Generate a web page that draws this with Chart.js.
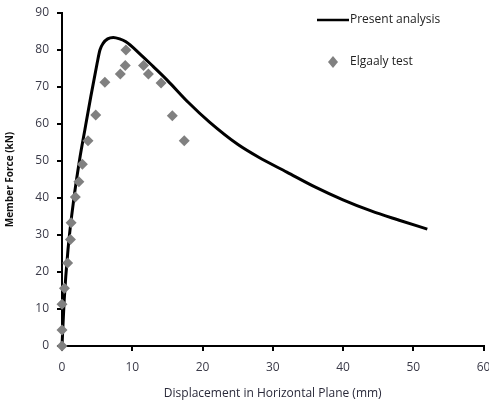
<!DOCTYPE html>
<html>
<head>
<meta charset="utf-8">
<script src="https://cdn.jsdelivr.net/npm/chart.js@4.4.1/dist/chart.umd.min.js"></script>
<style>
  html, body { margin: 0; padding: 0; background: #fff; }
  #wrap { width: 489px; height: 405px; }
</style>
</head>
<body>
<div id="wrap"><canvas id="chart" width="489" height="405"></canvas></div>
<script>
"use strict";

// present analysis curve (mm, kN)
var analysisX = [0, 0.3, 0.85, 1.7, 2.5, 3.25, 4.1, 5.0, 5.4, 5.85, 6.5, 7.3, 8.2, 9.1, 11, 13, 15, 18, 21, 25, 28, 32, 36, 40, 44, 48, 52];
var analysisY = [0, 12, 26, 40, 50.3, 58.4, 67.4, 76.4, 80, 81.8, 83, 83.4, 83, 82.2, 79.1, 75.5, 71.8, 65.8, 60.5, 54.5, 51, 47, 43, 39.5, 36.5, 34, 31.6];

// Elgaaly test points
var testX = [0, 0, 0, 0.35, 0.8, 1.2, 1.3, 1.9, 2.4, 2.9, 3.7, 4.8, 6.1, 8.3, 9.0, 9.1, 11.6, 12.3, 14.1, 15.7, 17.4];
var testY = [0, 4.3, 11.3, 15.6, 22.4, 28.8, 33.3, 40.3, 44.4, 49.1, 55.5, 62.4, 71.3, 73.5, 75.8, 80.0, 75.8, 73.5, 71.1, 62.2, 55.5];

var xTicks = [0, 10, 20, 30, 40, 50, 60];
var yTicks = [0, 10, 20, 30, 40, 50, 60, 70, 80, 90];

function toPoints(xs, ys) {
    var pts = [];
    for (var i = 0; i < xs.length; i++) {
        pts.push({x: xs[i], y: ys[i]});
    }
    return pts;
}

var tickColor = "#3a3a48";
var testColor = "#808080";

// legend drawn inside the plot, top right
var insideLegend = {
    id: "insideLegend",
    afterDraw: function (chart) {
        var ctx = chart.ctx;
        ctx.save();
        ctx.font = "12px 'Open Sans', sans-serif";
        ctx.fillStyle = "#222";
        ctx.textBaseline = "middle";

        ctx.strokeStyle = "#000";
        ctx.lineWidth = 2.5;
        ctx.beginPath();
        ctx.moveTo(317, 20);
        ctx.lineTo(349, 20);
        ctx.stroke();
        ctx.fillText("Present analysis", 350, 20);

        ctx.fillStyle = testColor;
        ctx.beginPath();
        ctx.moveTo(333, 56);
        ctx.lineTo(338, 62);
        ctx.lineTo(333, 68);
        ctx.lineTo(328, 62);
        ctx.closePath();
        ctx.fill();
        ctx.fillStyle = "#222";
        ctx.fillText("Elgaaly test", 350, 62);
        ctx.restore();
    }
};

var ctx = document.getElementById("chart").getContext("2d");
new Chart(ctx, {
    type: "scatter",
    data: {
        datasets: [
            {
                label: "Elgaaly test",
                data: toPoints(testX, testY),
                pointStyle: "rectRot",
                pointRadius: 5.5,
                backgroundColor: testColor,
                borderColor: testColor,
                borderWidth: 0,
                showLine: false,
                clip: false,
                order: 0
            },
            {
                label: "Present analysis",
                data: toPoints(analysisX, analysisY),
                showLine: true,
                borderColor: "#000",
                borderWidth: 3,
                pointRadius: 0,
                cubicInterpolationMode: "monotone",
                clip: false,
                order: 1
            }
        ]
    },
    options: {
        responsive: false,
        animation: false,
        layout: { padding: { top: 13, right: 3, left: 0, bottom: 0 } },
        plugins: {
            legend: { display: false },
            tooltip: { enabled: false }
        },
        scales: {
            x: {
                type: "linear",
                min: 0,
                max: 60,
                afterBuildTicks: function (scale) {
                    scale.ticks = xTicks.map(function (v) { return {value: v}; });
                },
                afterFit: function (scale) {
                    scale.height = 59;
                    scale.paddingLeft = 0;
                    scale.paddingRight = 0;
                },
                border: { color: "#000", width: 2 },
                grid: { drawOnChartArea: false, color: "#000", tickLength: 5, lineWidth: 2 },
                ticks: {
                    color: tickColor,
                    padding: 9,
                    font: { family: "'Open Sans', sans-serif", size: 12 }
                },
                title: {
                    display: true,
                    text: "Displacement in Horizontal Plane (mm)",
                    color: "#2a2a3a",
                    padding: { top: 8 },
                    font: { family: "'Open Sans', sans-serif", size: 12 }
                }
            },
            y: {
                type: "linear",
                min: 0,
                max: 90,
                afterBuildTicks: function (scale) {
                    scale.ticks = yTicks.map(function (v) { return {value: v}; });
                },
                afterFit: function (scale) {
                    scale.width = 62;
                    scale.paddingTop = 0;
                    scale.paddingBottom = 0;
                },
                border: { color: "#000", width: 2 },
                grid: { drawOnChartArea: false, color: "#000", tickLength: 5, lineWidth: 2 },
                ticks: {
                    color: tickColor,
                    padding: 8,
                    font: { family: "'Open Sans', sans-serif", size: 12 }
                },
                title: {
                    display: true,
                    text: "Member Force (kN)",
                    color: "#111",
                    padding: { bottom: 4 },
                    font: { family: "'Open Sans', sans-serif", size: 10, weight: "bold" }
                }
            }
        }
    },
    plugins: [insideLegend]
});
</script>
</body>
</html>
